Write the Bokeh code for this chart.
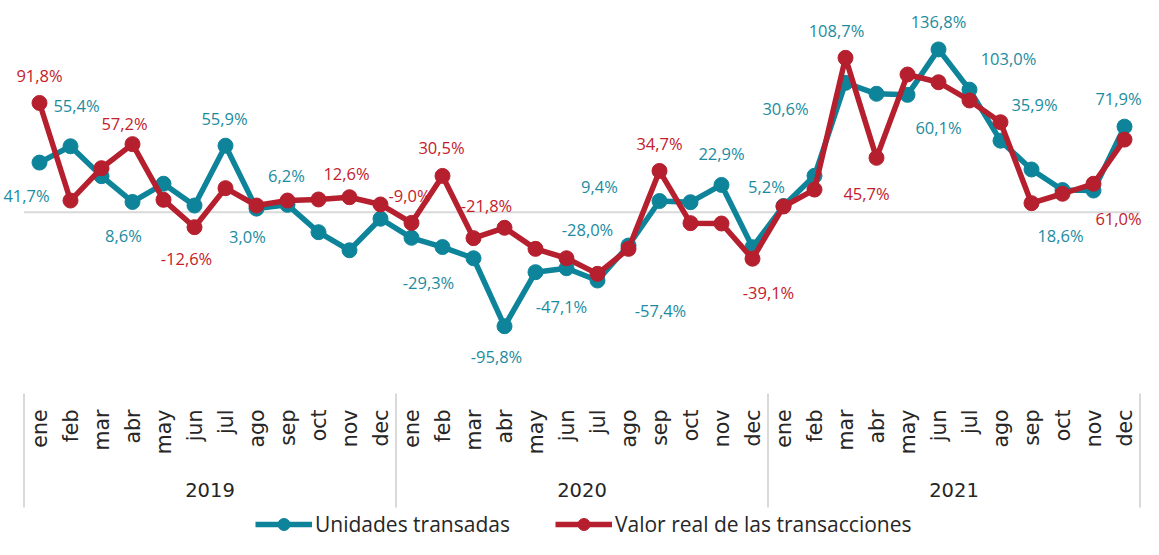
import math
from bokeh.plotting import figure
from bokeh.models import ColumnDataSource, Range1d, Legend, LegendItem
from bokeh.core.properties import value
from bokeh.embed import file_html
from bokeh.resources import INLINE

# ---------------- data ----------------
years = ["2019", "2020", "2021"]
months = ["ene", "feb", "mar", "abr", "may", "jun", "jul", "ago", "sep", "oct", "nov", "dec"]

unidades = [41.7, 55.4, 30.3, 8.6, 23.9, 5.6, 55.9, 3.0, 6.2, -16.8, -32.0, -5.5,
            -21.5, -29.3, -38.7, -95.8, -50.4, -47.1, -57.4, -28.0, 9.4, 8.4, 22.9, -29.4,
            5.2, 30.6, 108.7, 99.5, 98.6, 136.8, 103.0, 60.1, 35.9, 18.6, 18.2, 71.9]
valor = [91.8, 9.8, 37.0, 57.2, 10.4, -12.6, 20.2, 5.6, 9.8, 10.7, 12.6, 6.5,
         -9.0, 30.5, -21.8, -13.1, -30.8, -38.7, -51.8, -30.8, 34.7, -9.2, -9.5, -39.1,
         4.8, 19.0, 129.7, 45.7, 115.7, 109.2, 93.9, 75.6, 7.6, 15.5, 23.9, 61.0]

# indices of points carrying a data label
unidades_labelled = [0, 1, 3, 6, 7, 8, 13, 15, 17, 18, 19, 20, 22, 24, 25, 26, 29, 30, 31, 32, 33, 35]
valor_labelled = [0, 3, 5, 10, 12, 13, 14, 20, 23, 27, 35]

# label offsets (screen px) from their points -- layout only
unidades_offsets = [(-13, 33), (6, -41), (-9, 34), (-1, -27), (-9, 28), (-1, -29),
                    (-14, 35), (-8, 30), (-5, 38), (63, 30), (-41, -16), (-60, -15),
                    (0, -31), (-17, -20), (-29, -67), (-9, -52), (0, -28), (39, -31),
                    (-62, -13), (3, -65), (-2, 45), (-6, -28)]
valor_offsets = [(0, -27), (-8, -21), (-8, 31), (-3, -24), (-2, -27), (-1, -28),
                 (13, -33), (0, -27), (16, 34), (-10, 36), (-6, 79)]

# ---------------- style / layout ----------------
TEAL = "#0E849A"
TEAL_TXT = "#1B8CA0"
RED = "#B51F2E"
RED_TXT = "#C4202C"
GRID = "#D9D9D9"
TXT = "#262626"

W, H = 1143, 539
PX = 1.19          # pixels per percentage point
ZERO_PX = 211.7    # pixel row of the zero line
C0_PX = 39.0       # pixel column of the first category centre
BW = 31.0          # category band width in pixels

X_LEFT = -C0_PX / BW
X_RIGHT = (W - C0_PX) / BW
Y_TOP = ZERO_PX / PX
Y_BOT = Y_TOP - H / PX


def py(row):
    """pixel row -> data y"""
    return Y_TOP - row / PX


n = len(years) * len(months)
xs = list(range(n))

p = figure(width=W, height=H, output_backend="svg", toolbar_location=None,
           x_range=Range1d(X_LEFT, X_RIGHT), y_range=Range1d(Y_BOT, Y_TOP),
           x_axis_type=None, y_axis_type=None, min_border=0,
           outline_line_color=None,
           background_fill_color="white", border_fill_color="white")
p.grid.visible = False

# zero line across the category span
p.segment(x0=[-0.5], x1=[n - 0.5], y0=[0], y1=[0], line_color=GRID, line_width=2)

# series
src_u = ColumnDataSource(dict(x=xs, y=unidades))
src_v = ColumnDataSource(dict(x=xs, y=valor))
lu = p.line("x", "y", source=src_u, line_color=TEAL, line_width=5.5)
cu = p.scatter("x", "y", source=src_u, size=15, fill_color=TEAL, line_color=TEAL)
lv = p.line("x", "y", source=src_v, line_color=RED, line_width=5.5)
cv = p.scatter("x", "y", source=src_v, size=15, fill_color=RED, line_color=RED)


def fmt(v):
    return f"{v:.1f}".replace(".", ",") + "%"


def label_source(series, idx, offs):
    return ColumnDataSource(dict(
        x=idx, y=[series[i] for i in idx], t=[fmt(series[i]) for i in idx],
        dx=[o[0] for o in offs], dy=[o[1] for o in offs]))


for series, idx, offs, col in [(unidades, unidades_labelled, unidades_offsets, TEAL_TXT),
                               (valor, valor_labelled, valor_offsets, RED_TXT)]:
    p.text("x", "y", text="t", source=label_source(series, idx, offs),
           x_offset="dx", y_offset="dy", text_align="center", text_baseline="middle",
           text_color=col, text_font=value("Open Sans"), text_font_size="16.5px")

# category axis: month labels, year labels, separators
month_src = ColumnDataSource(dict(
    x=xs, y=[py(409)] * n, t=[m for _ in years for m in months]))
p.text("x", "y", text="t", source=month_src, angle=math.pi / 2,
       text_align="right", text_baseline="middle", text_color=TXT,
       text_font=value("DejaVu Sans"), text_font_size="20.5px")

year_src = ColumnDataSource(dict(
    x=[k * len(months) + (len(months) - 1) / 2 for k in range(len(years))],
    y=[py(489)] * len(years), t=years))
p.text("x", "y", text="t", source=year_src, text_align="center", text_baseline="middle",
       text_color=TXT, text_font=value("DejaVu Sans"), text_font_size="19.5px")

sep_x = [k * len(months) - 0.5 for k in range(len(years) + 1)]
p.segment(x0=sep_x, x1=sep_x, y0=[py(393)] * len(sep_x), y1=[py(507)] * len(sep_x),
          line_color=GRID, line_width=2)

# legends
for rends, label, lx in [([lu, cu], "Unidades transadas", 255),
                         ([lv, cv], "Valor real de las transacciones", 555)]:
    lg = Legend(items=[LegendItem(label=label, renderers=rends)],
                location=(lx, 0), orientation="horizontal",
                padding=0, margin=0, spacing=0, border_line_color=None,
                background_fill_alpha=0, glyph_width=57, glyph_height=30,
                label_standoff=3, label_height=20,
                label_text_font="Open Sans", label_text_font_size="21px",
                label_text_color=TXT)
    p.add_layout(lg)

open("out.html", "w").write(file_html(p, INLINE))
